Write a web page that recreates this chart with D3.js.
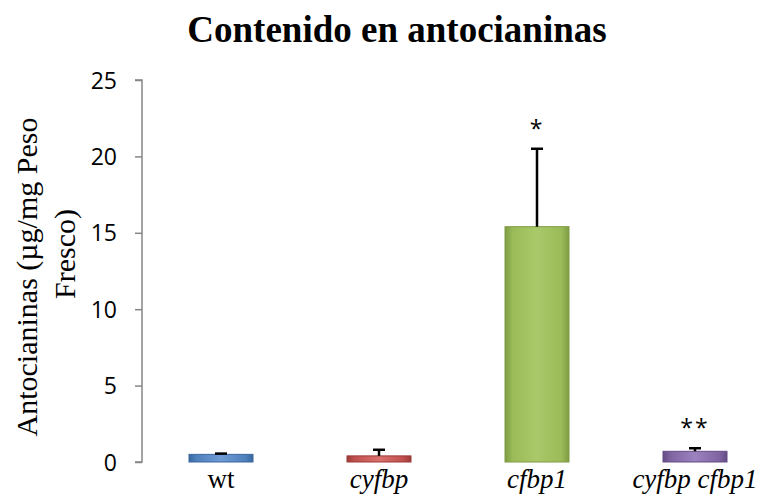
<!DOCTYPE html>
<html>
<head>
<meta charset="utf-8">
<script src="https://cdn.jsdelivr.net/npm/d3@7"></script>
<style>
  body { margin: 0; background: #fff; }
  svg { display: block; }
</style>
</head>
<body>
<div id="chart"></div>
<script>
"use strict";

var genotypes = ["wt", "cyfbp", "cfbp1", "cyfbp cfbp1"];
var italicLabel = [false, true, true, true];
var antocianinas = [0.5, 0.4, 15.4, 0.7];
var errores = [0.05, 0.4, 5.1, 0.2];
var significancia = ["", "", "*", "**"];
var yTicks = [0, 5, 10, 15, 20, 25];

var width = 758, height = 495;
var margin = { top: 80, right: -16, bottom: 33, left: 142 };

var fills = [
    { base: "#4f81bd", light: "#6f9bd6", dark: "#3a679e" },
    { base: "#c0504d", light: "#d9716e", dark: "#9c3b38" },
    { base: "#9bbb59", light: "#a9c96a", dark: "#7e9c43" },
    { base: "#8064a2", light: "#9d82c0", dark: "#644c85" }
];

var serif = "'Liberation Serif', 'Times New Roman', serif";

var svg = d3.select("#chart")
    .append("svg")
    .attr("width", width)
    .attr("height", height);

var defs = svg.append("defs");
fills.forEach(function (c, i) {
    var g = defs.append("linearGradient")
        .attr("id", "grad" + i)
        .attr("x1", "0").attr("x2", "1").attr("y1", "0").attr("y2", "0");
    g.append("stop").attr("offset", "0").attr("stop-color", c.dark);
    g.append("stop").attr("offset", "0.12").attr("stop-color", c.base);
    g.append("stop").attr("offset", "0.5").attr("stop-color", c.light);
    g.append("stop").attr("offset", "0.88").attr("stop-color", c.base);
    g.append("stop").attr("offset", "1").attr("stop-color", c.dark);
});

var x = d3.scaleBand()
    .domain(genotypes)
    .range([margin.left, width - margin.right])
    .paddingInner(0.595)
    .paddingOuter(0.2975);

var y = d3.scaleLinear()
    .domain([0, 25])
    .range([height - margin.bottom, margin.top]);

// title
svg.append("text")
    .attr("x", 397)
    .attr("y", 42)
    .attr("text-anchor", "middle")
    .style("font-family", serif)
    .style("font-weight", "bold")
    .style("font-size", "37px")
    .text("Contenido en antocianinas");

// y axis
var yAxis = d3.axisLeft(y)
    .tickValues(yTicks)
    .tickSize(7)
    .tickPadding(18);

var gy = svg.append("g")
    .attr("transform", "translate(" + margin.left + ",0)")
    .call(yAxis);
gy.select(".domain").attr("stroke", "#868686").attr("stroke-width", 1.5)
    .attr("d", "M-7," + y(25) + "H0V" + y(0) + "H-7");
gy.selectAll(".tick line").attr("stroke", "#868686").attr("stroke-width", 1.5);
gy.selectAll(".tick text")
    .style("font-family", "'Open Sans', 'Noto Sans', sans-serif")
    .style("font-size", "23px")
    .attr("dy", "0.35em")
    .attr("fill", "#000");

// y label (two lines, as wrapped in the original)
var yLabel = svg.append("text")
    .attr("transform", "rotate(-90)")
    .attr("text-anchor", "middle")
    .style("font-family", serif)
    .style("font-size", "30px");
yLabel.append("tspan").attr("x", -277).attr("y", 37).text("Antocianinas (\u00b5g/mg Peso");
yLabel.append("tspan").attr("x", -254).attr("y", 75).text("Fresco)");

// bars
svg.append("g").attr("class", "bars")
    .selectAll("rect")
    .data(genotypes)
    .enter().append("rect")
    .attr("x", function (d) { return x(d); })
    .attr("y", function (d, i) { return y(antocianinas[i]); })
    .attr("width", x.bandwidth())
    .attr("height", function (d, i) { return y(0) - y(antocianinas[i]); })
    .attr("fill", function (d, i) { return "url(#grad" + i + ")"; })
    .attr("stroke", function (d, i) { return fills[i].dark; })
    .attr("stroke-width", 1);

// error bars
var err = svg.append("g").attr("class", "errors")
    .selectAll("g")
    .data(genotypes)
    .enter().append("g");
err.append("line")
    .attr("x1", function (d) { return x(d) + x.bandwidth() / 2; })
    .attr("x2", function (d) { return x(d) + x.bandwidth() / 2; })
    .attr("y1", function (d, i) { return y(antocianinas[i]); })
    .attr("y2", function (d, i) { return y(antocianinas[i] + errores[i]); })
    .attr("stroke", "#000")
    .attr("stroke-width", 2.5);
err.append("line")
    .attr("x1", function (d) { return x(d) + x.bandwidth() / 2 - 6; })
    .attr("x2", function (d) { return x(d) + x.bandwidth() / 2 + 6; })
    .attr("y1", function (d, i) { return y(antocianinas[i] + errores[i]); })
    .attr("y2", function (d, i) { return y(antocianinas[i] + errores[i]); })
    .attr("stroke", "#000")
    .attr("stroke-width", 2.5);

// significance marks
svg.append("g").attr("class", "sig")
    .selectAll("text")
    .data(genotypes)
    .enter().append("text")
    .attr("x", function (d) { return x(d) + x.bandwidth() / 2; })
    .attr("y", function (d, i) { return y(antocianinas[i] + errores[i]) - 12; })
    .attr("text-anchor", "middle")
    .style("font-family", "'Open Sans', 'Noto Sans', sans-serif")
    .style("font-size", "23px")
    .style("letter-spacing", "2px")
    .text(function (d, i) { return significancia[i]; });

// x labels
svg.append("g").attr("class", "xlabels")
    .selectAll("text")
    .data(genotypes)
    .enter().append("text")
    .attr("x", function (d) { return x(d) + x.bandwidth() / 2; })
    .attr("y", 488)
    .attr("text-anchor", "middle")
    .style("font-family", serif)
    .style("font-size", "27px")
    .style("font-style", function (d, i) { return italicLabel[i] ? "italic" : "normal"; })
    .text(function (d) { return d; });
</script>
</body>
</html>
